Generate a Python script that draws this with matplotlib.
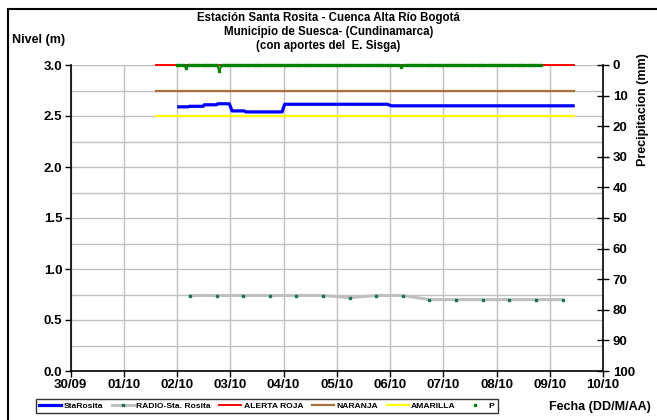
import matplotlib
matplotlib.use("Agg")
import matplotlib.pyplot as plt
from matplotlib.patches import Rectangle
from matplotlib.ticker import MultipleLocator, FormatStrFormatter
import numpy as np

plt.rcParams['font.family'] = ['Liberation Sans', 'DejaVu Sans']
plt.rcParams['font.weight'] = 'bold'

# x axis in days since 30/09
day_labels = ['30/09', '01/10', '02/10', '03/10', '04/10', '05/10',
              '06/10', '07/10', '08/10', '09/10', '10/10']

# StaRosita level (m)
sr_t = [2.03, 2.21, 2.23, 2.49, 2.51, 2.74, 2.76, 2.98, 3.03, 3.26, 3.29,
        3.97, 4.02, 5.95, 6.02, 9.44]
sr_v = [2.59, 2.59, 2.595, 2.595, 2.61, 2.61, 2.62, 2.62, 2.55, 2.55, 2.54,
        2.54, 2.615, 2.615, 2.60, 2.60]

# RADIO-Sta. Rosita readings (m)
radio_t = [2.24, 2.74, 3.24, 3.74, 4.24, 4.74, 5.24, 5.74, 6.24, 6.74,
           7.24, 7.74, 8.24, 8.74, 9.24]
radio_v = [0.74, 0.74, 0.74, 0.74, 0.74, 0.74, 0.72, 0.74, 0.74, 0.70,
           0.70, 0.70, 0.70, 0.70, 0.70]

# alert thresholds (m)
thr_t = [1.60, 9.46]
alerta_roja = 3.0
naranja = 2.75
amarilla = 2.5

# precipitation (mm), hourly, zero except these events
p_first = 2.0
p_last = 8.84
p_event_t = [2.17, 2.79, 6.20]
p_event_mm = [1.0, 2.0, 0.6]

p_t = np.arange(round(p_first * 24), round(p_last * 24) + 1) / 24.0
p_v = np.zeros(len(p_t))
for t, mm in zip(p_event_t, p_event_mm):
    p_v[np.argmin(np.abs(p_t - t))] = mm

fig = plt.figure(figsize=(6.57, 4.20), dpi=100)
ax = fig.add_axes([70.7 / 657, 1 - 371 / 420, (603 - 70.7) / 657, (371 - 65) / 420])
ax2 = ax.twinx()

ax.plot(sr_t, sr_v, color='#0000ff', lw=2.3, label='StaRosita', zorder=5)
ax.plot(radio_t, radio_v, color='#c0c0c0', lw=2.2, marker='s', ms=1.5,
        mfc='#1b6f55', mec='#1b6f55', label='RADIO-Sta. Rosita', zorder=4)
ax.plot(thr_t, [alerta_roja] * 2, color='#ff0000', lw=1.4, label='ALERTA ROJA',
        zorder=3, clip_on=False)
ax.plot(thr_t, [naranja] * 2, color='#a8703c', lw=1.6, label='NARANJA', zorder=3)
ax.plot(thr_t, [amarilla] * 2, color='#ffff00', lw=1.6, label='AMARILLA', zorder=3)

ax2.plot(p_t, p_v, color='#008000', lw=1.5, zorder=5, clip_on=False)
ax2.plot(p_t, p_v, ls='none', marker='s', ms=1.4, color='#008000', label='P',
         zorder=6, clip_on=False)

ax.set_xlim(0, 10)
ax.set_ylim(0, 3.0)
ax.set_xticks(range(11))
ax.set_xticklabels(day_labels)
ax.yaxis.set_major_locator(MultipleLocator(0.5))
ax.yaxis.set_minor_locator(MultipleLocator(0.25))
ax.yaxis.set_major_formatter(FormatStrFormatter('%.1f'))
ax.grid(axis='x', color='#c0c0c0', lw=1)
ax.grid(axis='y', which='both', color='#c0c0c0', lw=1)
ax.tick_params(axis='y', which='minor', length=0)
ax.tick_params(axis='both', which='major', labelsize=9.5, length=4, width=1, pad=2)
ax.set_axisbelow(True)

ax2.set_ylim(100, 0)
ax2.set_yticks(range(0, 101, 10))
ax2.tick_params(axis='y', labelsize=9.5, direction='inout', length=8, width=1, pad=3)

for a in (ax, ax2):
    a.spines['top'].set_visible(False)
ax.spines['right'].set_visible(False)
ax2.spines['left'].set_visible(False)
ax2.spines['bottom'].set_visible(False)
for s in ('left', 'bottom'):
    ax.spines[s].set_linewidth(1.2)
ax2.spines['right'].set_linewidth(1.2)

fig.text(0.5, 1 - 12.5 / 420, 'Estación Santa Rosita - Cuenca Alta Río Bogotá\n'
         'Municipio de Suesca- (Cundinamarca)\n(con aportes del  E. Sisga)',
         ha='center', va='top', fontsize=8.3, linespacing=1.17)
fig.text(12 / 657, 1 - 40 / 420, 'Nivel (m)', ha='left', va='center', fontsize=9)
fig.text(643 / 657, 1 - 110 / 420, 'Precipitacion (mm)', rotation=90,
         ha='center', va='center', fontsize=9)
fig.text(549 / 657, 1 - 407 / 420, 'Fecha (DD/M/AA)', ha='left', va='center', fontsize=9)

h1, l1 = ax.get_legend_handles_labels()
h2, l2 = ax2.get_legend_handles_labels()
leg = fig.legend(h1 + h2, l1 + l2, ncol=6, loc='lower left',
                 bbox_to_anchor=(32 / 657, 3 / 420), fontsize=6.1,
                 frameon=True, fancybox=False, edgecolor='black',
                 handlelength=2.6, handletextpad=0.3, columnspacing=1.0,
                 borderpad=0.35)
leg.get_frame().set_linewidth(1.0)

fig.add_artist(Rectangle((8 / 657, -0.1), 1.5, 1 - 9 / 420 + 0.1,
                         transform=fig.transFigure, fill=False,
                         lw=1.5, ec='black', clip_on=False))

fig.savefig('out.png', dpi=100)
